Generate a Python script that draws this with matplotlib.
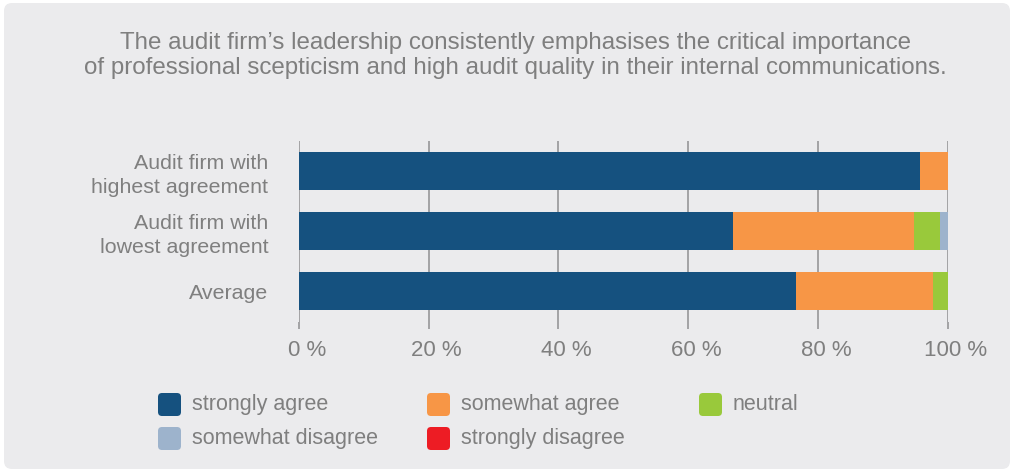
import matplotlib
matplotlib.use("Agg")
import matplotlib.pyplot as plt
from matplotlib.patches import FancyBboxPatch
from matplotlib.transforms import ScaledTranslation
import numpy as np

# Survey responses (percent of respondents)
categories = ["Audit firm with\nhighest agreement",
              "Audit firm with\nlowest agreement",
              "Average"]
responses = ["strongly agree", "somewhat agree", "neutral",
             "somewhat disagree", "strongly disagree"]
strongly_agree = [95.7, 66.9, 76.6]
somewhat_agree = [4.3, 27.9, 21.2]
neutral = [0.0, 4.0, 2.2]
somewhat_disagree = [0.0, 1.2, 0.0]
strongly_disagree = [0.0, 0.0, 0.0]
x_ticks = [0, 20, 40, 60, 80, 100]
x_tick_labels = ["0 %", "20 %", "40 %", "60 %", "80 %", "100 %"]

title = ("The audit firm\u2019s leadership consistently emphasises the critical importance\n"
         "of professional scepticism and high audit quality in their internal communications.")

colors = ["#15517f", "#f79646", "#99c93b", "#9db3cc", "#ed1c24"]
text_color = "#7f7f7f"
grid_color = "#a3a3a5"
panel_color = "#ebebed"

plt.rcParams["font.family"] = ["Liberation Sans", "DejaVu Sans"]

fig = plt.figure(figsize=(10.13, 4.70), dpi=100, facecolor="white")

# rounded grey panel behind everything
panel = FancyBboxPatch((0.04 + 0.08, 0.01 + 0.08), 10.06 - 0.16, 4.66 - 0.16,
                       boxstyle="round,pad=0.08", transform=fig.dpi_scale_trans,
                       facecolor=panel_color, edgecolor="none", zorder=0)
fig.add_artist(panel)

ax = fig.add_axes([299 / 1013, 1 - 321.5 / 470, (947.7 - 299) / 1013, (321.5 - 141) / 470])
ax.set_facecolor("none")

series = [strongly_agree, somewhat_agree, neutral, somewhat_disagree, strongly_disagree]
y = np.arange(len(categories))
left = np.zeros(len(categories))
for vals, col, name in zip(series, colors, responses):
    vals = np.array(vals)
    ax.barh(y, vals, left=left, height=0.63, color=col, label=name, zorder=3)
    left += vals

ax.set_xlim(0, 100)
ax.set_ylim(len(categories) - 0.5, -0.5)
ax.set_yticks(y)
ax.set_yticklabels(categories, fontsize=15.4, color=text_color, linespacing=1.3)
ax.set_xticks(x_ticks)
ax.set_xticklabels(x_tick_labels, fontsize=16, color=text_color)
ax.tick_params(axis="y", length=0, pad=22)
ax.tick_params(axis="x", length=5, width=1.4, color=grid_color, pad=8)
# the percentage labels sit slightly right of their ticks
shift = ScaledTranslation(8 / 100, 0, fig.dpi_scale_trans)
for lbl in ax.get_xticklabels():
    lbl.set_transform(lbl.get_transform() + shift)
for s in ax.spines.values():
    s.set_visible(False)
ax.grid(axis="x", color=grid_color, linewidth=1.4, zorder=1)
ax.set_axisbelow(True)

fig.text(515 / 1013, 1 - 55.5 / 470, title, ha="center", va="center",
         fontsize=17.4, color=text_color, linespacing=1.2)

# legend: three columns, two rows of rounded swatches
col_x = [158, 427, 699]
row_y = [404.5, 438.5]
order = [(0, 0), (0, 1), (0, 2), (1, 0), (1, 1)]
for (r, c), name, col in zip(order, responses, colors):
    cx, cy = col_x[c], row_y[r]
    sw = FancyBboxPatch(((cx + 4) / 100, (470 - cy - 7.5) / 100), 15 / 100, 15 / 100,
                        boxstyle="round,pad=0.04", transform=fig.dpi_scale_trans,
                        facecolor=col, edgecolor="none")
    fig.add_artist(sw)
    fig.text((cx + 34) / 1013, 1 - cy / 470, name, ha="left", va="center",
             fontsize=15.5, color=text_color)

fig.savefig("out.png", dpi=100, facecolor="white")
